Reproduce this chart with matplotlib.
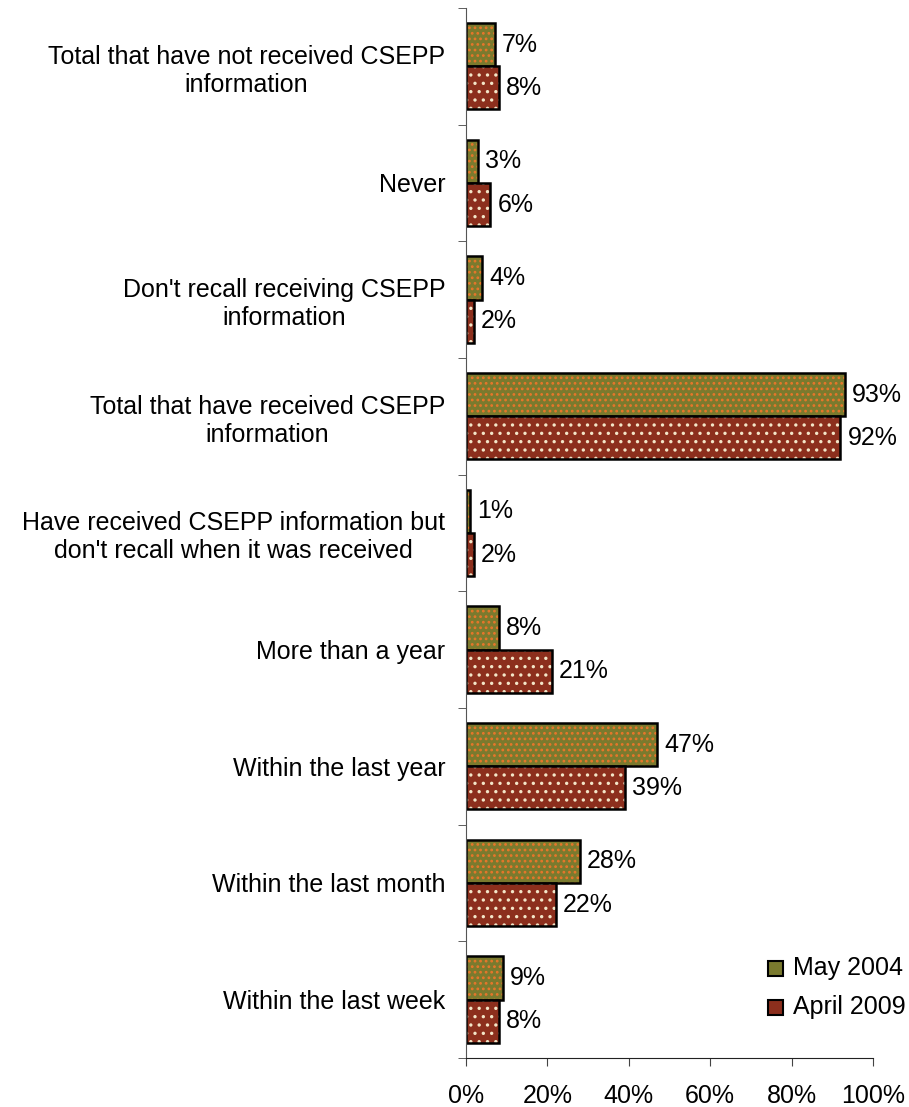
import numpy as np
import matplotlib
matplotlib.use("Agg")
import matplotlib.pyplot as plt
from matplotlib.patches import Patch
from matplotlib.legend_handler import HandlerPatch

##### Data #####
categories = [
    "Total that have not received CSEPP\ninformation",
    "Never",
    "Don't recall receiving CSEPP\ninformation",
    "Total that have received CSEPP\ninformation",
    "Have received CSEPP information but\ndon't recall when it was received",
    "More than a year",
    "Within the last year",
    "Within the last month",
    "Within the last week",
]
may_2004 = [7, 3, 4, 93, 1, 8, 47, 28, 9]
april_2009 = [8, 6, 2, 92, 2, 21, 39, 22, 8]
series_names = ["May 2004", "April 2009"]
x_ticks = [0, 20, 40, 60, 80, 100]

##### Style #####
plt.rcParams["font.family"] = ["Liberation Sans", "DejaVu Sans"]
plt.rcParams["hatch.linewidth"] = 1.2
olive = "#7a7a2e"
brick = "#8c2f1d"
dot_olive = "#e8762a"
dot_brick = "#f3e6c8"
fs = 18

fig = plt.figure(figsize=(9.09, 11.07), dpi=100)
ax = fig.add_axes([0.5127, 0.0443, 0.9604 - 0.5127, 0.9928 - 0.0443])

n = len(categories)
y = np.arange(n)
h = 0.37

series = [(may_2004, y - h / 2, olive, dot_olive, "..."),
          (april_2009, y + h / 2, brick, dot_brick, "..")]
for vals, pos, fc, dc, hatch in series:
    # fill + dots (hatch takes the edge colour, so draw the outline separately)
    ax.barh(pos, vals, height=h, color=fc, edgecolor=dc, hatch=hatch, linewidth=0)
    ax.barh(pos, vals, height=h, facecolor="none", edgecolor="black", linewidth=1.8)
    for v, p in zip(vals, pos):
        ax.annotate(f"{v}%", (v, p), xytext=(5, 0), textcoords="offset points",
                    va="center", ha="left", fontsize=fs)

ax.set_xlim(0, 100)
ax.set_ylim(n - 0.5, -0.5)
ax.set_xticks(x_ticks)
ax.set_xticklabels([f"{t}%" for t in x_ticks], fontsize=fs)
ax.tick_params(axis="x", length=6, pad=13, color="#444444")

ax.set_yticks(y)
ax.set_yticklabels(categories, fontsize=fs, multialignment="center")
ax.tick_params(axis="y", length=0, pad=15)
ax.set_yticks(np.arange(n + 1) - 0.5, minor=True)
ax.tick_params(axis="y", which="minor", length=6, color="#444444")

for side in ["top", "right"]:
    ax.spines[side].set_visible(False)
ax.spines["left"].set_color("#555555")
ax.spines["bottom"].set_color("#222222")


class DotHandler(HandlerPatch):
    def create_artists(self, legend, orig, xd, yd, w, hh, fs, trans):
        s = min(w, hh) * 1.0
        p = plt.Rectangle((xd + w - s, yd + (hh - s) / 2), s, s, transform=trans,
                          facecolor=orig.get_facecolor(), edgecolor="black", linewidth=1.5)
        return [p]


handles = [Patch(facecolor=olive), Patch(facecolor=brick)]
fig.legend(handles, series_names, loc="lower right", bbox_to_anchor=(1.021, 0.059),
           frameon=False, fontsize=fs, handlelength=0.6, handleheight=0.6,
           handletextpad=0.4, labelspacing=0.6,
           handler_map={Patch: DotHandler()})

fig.savefig("out.png", dpi=100)
